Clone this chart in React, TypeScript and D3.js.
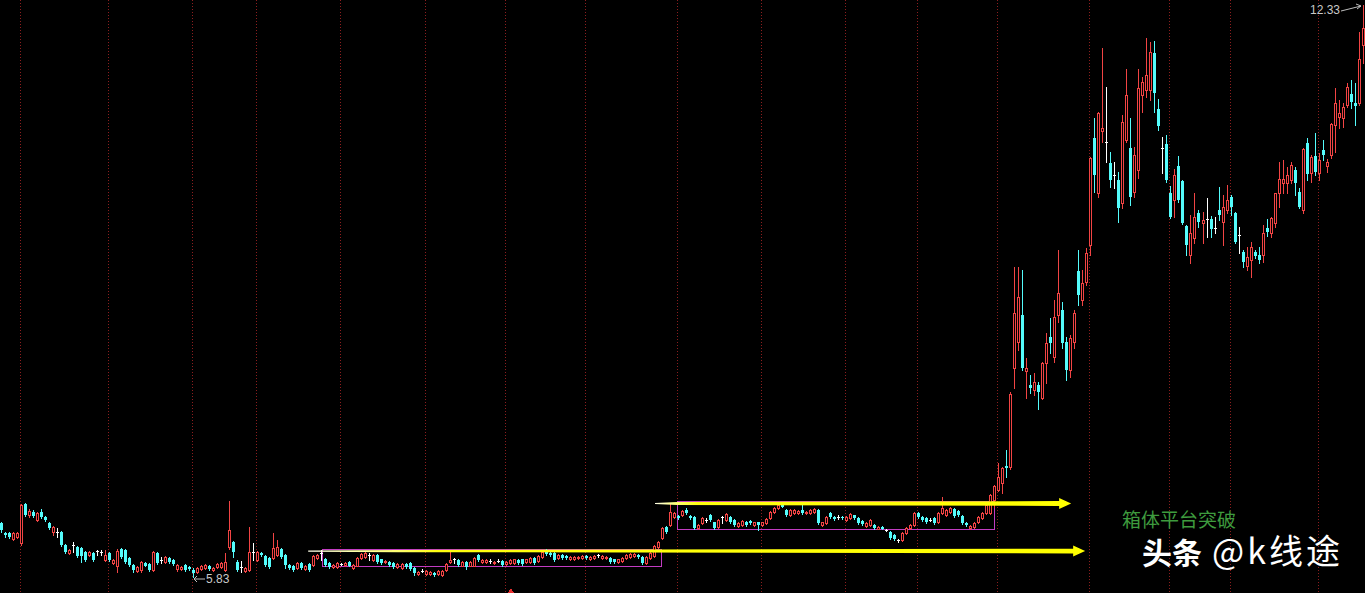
import React, { useEffect } from 'react';
import * as d3 from 'd3';

const W = 1365;
const H = 593;

// Daily OHLC (341 sessions)
const openP = [
  6.44, 6.33, 6.33, 6.26, 6.28, 6.22, 6.66, 6.53, 6.57, 6.48,
  6.57, 6.51, 6.44, 6.34, 6.34, 6.34, 6.19, 6.10, 6.19, 6.17,
  6.16, 6.11, 6.08, 6.10, 6.12, 6.11, 6.02, 6.10, 5.99, 5.96,
  6.15, 6.14, 6.05, 5.97, 5.90, 5.91, 5.99, 5.98, 5.91, 6.10,
  6.02, 6.00, 6.05, 6.02, 5.92, 5.92, 5.97, 5.94, 5.91, 5.89,
  5.92, 5.93, 5.96, 5.91, 5.94, 5.94, 5.91, 6.17, 6.23, 6.00,
  5.94, 5.90, 5.91, 6.11, 6.02, 6.10, 6.07, 6.05, 6.05, 6.08,
  6.15, 6.08, 5.97, 5.96, 5.93, 5.99, 5.92, 5.98, 5.97, 6.05,
  6.10, 6.03, 5.99, 5.94, 5.94, 5.98, 5.97, 6.00, 5.93, 5.96,
  6.05, 6.06, 6.08, 6.02, 6.08, 6.03, 6.00, 6.00, 5.99, 5.94,
  5.93, 5.98, 5.99, 5.93, 5.86, 5.90, 5.86, 5.86, 5.88, 5.86,
  5.85, 5.91, 6.00, 6.03, 6.02, 5.96, 6.00, 5.96, 5.96, 6.08,
  6.00, 6.00, 6.01, 5.99, 6.01, 6.01, 5.98, 5.99, 5.99, 6.02,
  6.03, 6.00, 6.00, 6.05, 6.01, 6.06, 6.14, 6.10, 6.10, 6.05,
  6.08, 6.07, 6.03, 6.03, 6.05, 6.05, 6.07, 6.03, 6.05, 6.08,
  6.05, 6.05, 6.05, 6.03, 6.00, 6.01, 6.05, 6.06, 6.07, 6.08,
  6.06, 5.99, 6.05, 6.07, 6.17, 6.27, 6.40, 6.42, 6.51, 6.52,
  6.53, 6.59, 6.52, 6.51, 6.39, 6.44, 6.48, 6.53, 6.45, 6.40,
  6.51, 6.48, 6.51, 6.48, 6.41, 6.42, 6.45, 6.47, 6.42, 6.45,
  6.42, 6.44, 6.50, 6.57, 6.61, 6.65, 6.59, 6.53, 6.56, 6.56,
  6.59, 6.56, 6.56, 6.57, 6.59, 6.42, 6.44, 6.56, 6.51, 6.51,
  6.51, 6.48, 6.50, 6.53, 6.50, 6.47, 6.41, 6.42, 6.42, 6.38,
  6.40, 6.36, 6.34, 6.31, 6.25, 6.25, 6.33, 6.39, 6.42, 6.56,
  6.51, 6.50, 6.48, 6.50, 6.45, 6.56, 6.53, 6.57, 6.60, 6.58,
  6.52, 6.44, 6.39, 6.40, 6.45, 6.50, 6.56, 6.56, 6.70, 6.82,
  6.90, 7.09, 7.08, 8.21, 8.50, 8.81, 8.17, 8.01, 7.96, 8.01,
  7.86, 8.26, 8.56, 8.33, 8.81, 8.86, 8.50, 8.18, 8.50, 9.31,
  8.98, 9.18, 9.60, 10.82, 10.19, 10.90, 10.77, 10.535, 10.40, 10.34,
  10.08, 10.80, 10.705, 10.205, 10.455, 11.31, 11.36, 11.36, 11.785, 11.15,
  10.705, 10.75, 10.19, 10.11, 10.50, 10.33, 9.82, 9.49, 9.68, 9.97,
  9.85, 9.90, 9.90, 9.80, 10.00, 9.86, 10.00, 10.15, 9.97, 9.72,
  9.52, 9.36, 9.43, 9.52, 9.49, 9.49, 9.80, 9.74, 9.85, 10.19,
  10.31, 10.31, 10.34, 10.455, 10.205, 10.00, 10.76, 10.42, 10.61, 10.42,
  10.68, 10.50, 10.625, 10.97, 11.06, 11.05, 11.19, 11.32, 11.22, 11.22, 11.875,
];

const highP = [
  6.46, 6.34, 6.34, 6.34, 6.34, 6.66, 6.67, 6.60, 6.59, 6.57,
  6.60, 6.52, 6.45, 6.41, 6.39, 6.35, 6.20, 6.15, 6.23, 6.18,
  6.17, 6.12, 6.12, 6.11, 6.14, 6.14, 6.14, 6.11, 6.03, 6.15,
  6.16, 6.15, 6.06, 5.98, 5.96, 6.01, 6.00, 5.99, 6.12, 6.11,
  6.06, 6.07, 6.06, 6.03, 5.98, 5.96, 5.98, 5.96, 5.93, 5.94,
  5.97, 5.98, 5.97, 5.94, 5.99, 6.00, 6.10, 6.69, 6.24, 6.02,
  6.01, 5.94, 6.40, 6.22, 6.12, 6.11, 6.08, 6.06, 6.33, 6.25,
  6.16, 6.09, 5.98, 5.97, 6.00, 6.00, 5.97, 5.99, 6.08, 6.09,
  6.14, 6.05, 6.00, 5.98, 6.00, 5.99, 6.00, 6.01, 5.98, 6.06,
  6.10, 6.12, 6.10, 6.09, 6.09, 6.04, 6.02, 6.01, 6.00, 5.99,
  5.99, 5.99, 6.00, 5.94, 5.90, 5.92, 5.91, 5.90, 5.89, 5.91,
  5.91, 5.99, 6.11, 6.05, 6.03, 6.01, 6.01, 6.01, 6.06, 6.09,
  6.03, 6.03, 6.03, 6.01, 6.03, 6.02, 6.01, 6.03, 6.04, 6.03,
  6.04, 6.04, 6.06, 6.06, 6.08, 6.12, 6.15, 6.11, 6.11, 6.09,
  6.09, 6.08, 6.07, 6.07, 6.07, 6.08, 6.08, 6.07, 6.08, 6.09,
  6.08, 6.07, 6.06, 6.04, 6.04, 6.06, 6.09, 6.10, 6.10, 6.09,
  6.07, 6.07, 6.11, 6.19, 6.24, 6.40, 6.41, 6.67, 6.57, 6.53,
  6.59, 6.61, 6.53, 6.52, 6.43, 6.51, 6.50, 6.55, 6.46, 6.49,
  6.52, 6.56, 6.52, 6.49, 6.45, 6.48, 6.47, 6.48, 6.46, 6.46,
  6.46, 6.50, 6.58, 6.62, 6.66, 6.67, 6.60, 6.60, 6.60, 6.59,
  6.66, 6.58, 6.60, 6.61, 6.60, 6.46, 6.52, 6.57, 6.52, 6.53,
  6.52, 6.52, 6.56, 6.54, 6.51, 6.48, 6.45, 6.49, 6.43, 6.41,
  6.41, 6.38, 6.35, 6.32, 6.26, 6.34, 6.40, 6.43, 6.57, 6.57,
  6.52, 6.51, 6.50, 6.51, 6.57, 6.74, 6.60, 6.62, 6.61, 6.59,
  6.53, 6.45, 6.42, 6.45, 6.52, 6.57, 6.66, 6.77, 6.87, 7.13,
  7.08, 7.27, 7.93, 9.35, 9.35, 9.32, 8.32, 8.13, 8.15, 8.05,
  8.27, 8.60, 8.77, 8.98, 9.55, 8.955, 8.56, 8.58, 8.86, 9.55,
  9.32, 9.57, 10.60, 11.05, 11.11, 11.84, 11.40, 10.66, 10.55, 10.43,
  11.08, 11.60, 11.05, 10.72, 11.60, 11.51, 11.955, 11.91, 11.92, 11.26,
  10.83, 10.85, 10.27, 10.47, 10.61, 10.34, 9.83, 9.94, 10.19, 10.00,
  9.98, 10.14, 9.93, 9.92, 10.26, 10.17, 10.285, 10.17, 9.98, 9.81,
  9.55, 9.58, 9.64, 9.55, 9.58, 9.83, 9.90, 9.92, 10.19, 10.55,
  10.57, 10.49, 10.55, 10.49, 10.25, 10.705, 10.82, 10.625, 10.875, 10.65,
  10.80, 10.58, 10.99, 11.39, 11.25, 11.22, 11.44, 11.48, 11.44, 12.02, 12.33,
];

const lowP = [
  6.34, 6.28, 6.27, 6.25, 6.27, 6.19, 6.52, 6.51, 6.51, 6.47,
  6.50, 6.47, 6.38, 6.31, 6.28, 6.18, 6.10, 6.09, 6.11, 6.06,
  6.00, 6.01, 6.07, 6.01, 6.08, 6.08, 6.01, 6.01, 5.98, 5.89,
  6.05, 5.99, 5.96, 5.89, 5.89, 5.89, 5.95, 5.90, 5.90, 5.98,
  5.99, 5.99, 5.99, 5.97, 5.90, 5.91, 5.90, 5.91, 5.83, 5.88,
  5.91, 5.92, 5.91, 5.90, 5.93, 5.93, 5.90, 6.15, 6.06, 5.90,
  5.89, 5.89, 5.90, 6.02, 6.01, 6.07, 5.96, 5.93, 6.04, 6.07,
  6.05, 5.93, 5.92, 5.90, 5.92, 5.92, 5.91, 5.90, 5.96, 6.04,
  6.02, 5.96, 5.93, 5.93, 5.93, 5.97, 5.96, 5.95, 5.92, 5.95,
  6.04, 6.05, 6.02, 6.01, 5.99, 5.98, 5.99, 5.96, 5.93, 5.93,
  5.92, 5.93, 5.91, 5.85, 5.85, 5.89, 5.85, 5.85, 5.84, 5.85,
  5.84, 5.90, 5.99, 5.99, 5.96, 5.95, 5.92, 5.95, 5.95, 6.01,
  5.99, 5.99, 5.99, 5.98, 6.00, 5.96, 5.97, 5.98, 5.98, 5.98,
  5.97, 5.99, 5.99, 5.98, 6.00, 6.05, 6.08, 6.07, 6.01, 6.04,
  6.04, 6.04, 6.02, 6.02, 6.04, 6.04, 6.04, 6.02, 6.04, 6.06,
  6.04, 6.04, 5.99, 5.99, 5.99, 6.00, 6.04, 6.05, 6.06, 6.05,
  5.98, 5.98, 6.04, 6.06, 6.16, 6.26, 6.33, 6.41, 6.50, 6.49,
  6.52, 6.55, 6.49, 6.38, 6.38, 6.43, 6.46, 6.47, 6.38, 6.39,
  6.44, 6.47, 6.44, 6.41, 6.40, 6.41, 6.41, 6.43, 6.41, 6.36,
  6.41, 6.43, 6.49, 6.56, 6.60, 6.62, 6.52, 6.52, 6.55, 6.55,
  6.55, 6.55, 6.55, 6.56, 6.43, 6.41, 6.43, 6.50, 6.48, 6.49,
  6.49, 6.47, 6.49, 6.49, 6.43, 6.42, 6.40, 6.41, 6.38, 6.37,
  6.37, 6.35, 6.26, 6.25, 6.23, 6.24, 6.32, 6.38, 6.41, 6.50,
  6.47, 6.44, 6.47, 6.43, 6.44, 6.55, 6.52, 6.56, 6.51, 6.52,
  6.43, 6.41, 6.38, 6.39, 6.44, 6.49, 6.55, 6.55, 6.63, 6.81,
  6.78, 6.97, 7.06, 7.98, 8.41, 8.18, 7.86, 7.92, 7.90, 7.74,
  7.85, 8.03, 8.38, 8.27, 8.73, 8.43, 8.07, 8.10, 8.43, 8.92,
  8.92, 9.15, 9.49, 10.205, 10.15, 10.77, 10.55, 10.26, 10.25, 9.86,
  10.02, 10.77, 10.06, 10.15, 10.36, 11.11, 11.285, 11.25, 11.11, 10.91,
  10.42, 10.32, 9.91, 9.92, 10.09, 9.84, 9.49, 9.40, 9.625, 9.81,
  9.625, 9.69, 9.69, 9.74, 9.89, 9.60, 9.97, 9.94, 9.625, 9.51,
  9.35, 9.32, 9.24, 9.455, 9.40, 9.41, 9.705, 9.69, 9.81, 10.03,
  10.19, 10.19, 10.31, 10.17, 10.02, 9.97, 10.34, 10.32, 10.40, 10.34,
  10.57, 10.43, 10.59, 10.66, 10.93, 10.94, 11.17, 11.16, 10.97, 11.19, 11.67,
];

const closeP = [
  6.36, 6.31, 6.28, 6.33, 6.33, 6.65, 6.53, 6.58, 6.52, 6.56,
  6.51, 6.48, 6.39, 6.40, 6.34, 6.19, 6.11, 6.14, 6.19, 6.07,
  6.07, 6.02, 6.11, 6.02, 6.12, 6.11, 6.08, 6.02, 6.02, 6.12,
  6.06, 6.00, 5.97, 5.91, 5.94, 6.00, 5.96, 5.91, 6.11, 5.99,
  6.02, 6.06, 6.00, 5.98, 5.97, 5.94, 5.91, 5.92, 5.88, 5.93,
  5.96, 5.97, 5.92, 5.93, 5.98, 5.99, 6.00, 6.36, 6.11, 5.91,
  5.94, 5.93, 6.11, 6.11, 6.11, 6.08, 5.97, 5.94, 6.16, 6.17,
  6.06, 5.97, 5.93, 5.91, 5.99, 5.93, 5.96, 5.91, 6.07, 6.08,
  6.10, 5.97, 5.94, 5.97, 5.99, 5.98, 5.99, 5.96, 5.97, 6.05,
  6.09, 6.10, 6.08, 6.08, 6.00, 5.99, 6.01, 5.97, 5.94, 5.98,
  5.98, 5.94, 5.92, 5.88, 5.89, 5.90, 5.90, 5.89, 5.85, 5.90,
  5.90, 5.98, 6.02, 6.03, 5.97, 6.00, 5.94, 6.00, 6.05, 6.02,
  6.02, 6.02, 6.01, 6.00, 6.01, 5.97, 6.00, 6.02, 6.03, 5.99,
  5.98, 6.03, 6.05, 5.99, 6.07, 6.11, 6.09, 6.08, 6.02, 6.08,
  6.05, 6.05, 6.06, 6.06, 6.06, 6.07, 6.05, 6.06, 6.07, 6.08,
  6.07, 6.06, 6.00, 6.00, 6.03, 6.05, 6.08, 6.09, 6.09, 6.06,
  5.99, 6.06, 6.10, 6.18, 6.23, 6.39, 6.34, 6.57, 6.56, 6.50,
  6.58, 6.56, 6.50, 6.39, 6.42, 6.50, 6.48, 6.48, 6.39, 6.48,
  6.51, 6.55, 6.45, 6.42, 6.44, 6.47, 6.42, 6.44, 6.45, 6.42,
  6.45, 6.49, 6.57, 6.61, 6.65, 6.63, 6.53, 6.59, 6.59, 6.58,
  6.56, 6.57, 6.59, 6.60, 6.44, 6.45, 6.51, 6.51, 6.49, 6.51,
  6.50, 6.51, 6.55, 6.50, 6.44, 6.43, 6.44, 6.48, 6.39, 6.40,
  6.38, 6.36, 6.27, 6.26, 6.25, 6.33, 6.39, 6.42, 6.56, 6.51,
  6.48, 6.45, 6.48, 6.44, 6.56, 6.61, 6.59, 6.61, 6.52, 6.53,
  6.44, 6.42, 6.41, 6.44, 6.51, 6.56, 6.65, 6.76, 6.86, 6.97,
  7.07, 7.07, 7.91, 8.83, 9.01, 8.21, 8.21, 7.98, 8.05, 7.93,
  8.26, 8.49, 8.49, 8.78, 9.06, 8.49, 8.18, 8.55, 8.83, 9.03,
  9.17, 9.51, 10.59, 10.40, 11.10, 10.93, 10.77, 10.34, 10.40, 10.02,
  11.00, 11.31, 10.15, 10.625, 11.39, 11.455, 11.535, 11.80, 11.33, 10.955,
  10.705, 10.34, 9.92, 10.40, 10.11, 9.85, 9.60, 9.74, 9.92, 9.86,
  9.89, 9.90, 9.785, 9.80, 9.94, 10.03, 10.11, 10.03, 9.64, 9.72,
  9.41, 9.47, 9.58, 9.48, 9.43, 9.74, 9.75, 9.91, 10.19, 10.35,
  10.35, 10.40, 10.51, 10.31, 10.03, 10.69, 10.41, 10.60, 10.43, 10.57,
  10.625, 10.55, 10.98, 11.22, 11.10, 11.17, 11.40, 11.23, 11.18, 11.72, 12.07,
];

// first session of each month (dotted separators)
const monthStarts = [5, 27, 48, 64, 85, 106, 126, 146, 169, 190, 211, 229, 249, 272, 292, 307, 329];

// consolidation boxes: start index, end index, top price, bottom price
const boxStart = [80.1, 168.9];
const boxEnd = [164.7, 248.0];
const boxTop = [6.148, 6.697];
const boxBottom = [5.955, 6.372];

// breakout arrows: start index, tip index, price level
const arrowStart = [163.3, 76.7];
const arrowTip = [267.2, 270.7];
const arrowLevel = [6.665, 6.125];

const signalMarks = [127];

const noteText = '箱体平台突破';
const brandBold = '头条';
const brandRest = '@k线途';

const RED = '#F24444';
const CYAN = '#54FCFC';
const WHITE = '#FFFFFF';

export default function App() {
  useEffect(() => {
    document.body.style.margin = '0';
    document.body.style.background = '#000';
    document.body.style.overflow = 'hidden';
  }, []);

  const n = Math.min(openP.length, highP.length, lowP.length, closeP.length);
  const x = d3.scaleLinear().domain([0, 340]).range([1, 1 + 4.005 * 340]);
  const lo = d3.min(lowP.slice(0, n)) as number;
  const hi = d3.max(highP.slice(0, n)) as number;
  const y = d3.scaleLinear().domain([lo, hi]).range([577, 5]);
  const iLo = d3.minIndex(lowP.slice(0, n));
  const iHi = d3.maxIndex(highP.slice(0, n));

  const candles = d3.range(n).map((i) => {
    const o = openP[i], h = highP[i], l = lowP[i], c = closeP[i];
    const cx = Math.round(x(i));
    const yh = Math.round(y(h));
    const yl = Math.round(y(l));
    const yt = Math.round(y(Math.max(o, c)));
    const yb = Math.round(y(Math.min(o, c)));
    if (c > o) {
      const hgt = yb - yt;
      return (
        <g key={i}>
          <line x1={cx + 0.5} x2={cx + 0.5} y1={yh} y2={yt} stroke={RED} />
          <line x1={cx + 0.5} x2={cx + 0.5} y1={yb + 1} y2={yl + 1} stroke={RED} />
          {hgt >= 2 ? (
            <rect x={cx - 0.5} y={yt + 0.5} width={2} height={hgt} fill="#000" stroke={RED} />
          ) : (
            <rect x={cx - 1} y={yt} width={3} height={hgt + 1} fill={RED} />
          )}
        </g>
      );
    }
    const col = c < o ? CYAN : WHITE;
    return (
      <g key={i}>
        <line x1={cx + 0.5} x2={cx + 0.5} y1={yh} y2={yl + 1} stroke={col} />
        <rect x={cx - 1} y={yt} width={3} height={Math.max(yb - yt, 1)} fill={col} />
      </g>
    );
  });

  const grid = monthStarts.map((m, k) => {
    const gx = Math.round(x(m)) - 1 + 0.5;
    return <line key={k} x1={gx} x2={gx} y1={0} y2={H} stroke="#8c1e1e" strokeDasharray="1 2" />;
  });

  const boxes = boxStart.map((s, k) => {
    const x0 = Math.round(x(s)) + 0.5;
    const x1 = Math.round(x(boxEnd[k])) + 0.5;
    const y0 = Math.round(y(boxTop[k])) + 0.5;
    const y1 = Math.round(y(boxBottom[k])) + 0.5;
    return <rect key={k} x={x0} y={y0} width={x1 - x0} height={y1 - y0} fill="none" stroke="#C23CC2" />;
  });

  // taper lengths (px) of the thin lead-in of each arrow
  const leadIn = [22, 90];
  const arrows = arrowStart.map((s, k) => {
    const x0 = x(s);
    const x1 = x(arrowTip[k]);
    const yc = y(arrowLevel[k]);
    const head = 12;
    const hh = 5.5;
    const xm = x0 + leadIn[k];
    const wm = k === 0 ? 3.2 : 2.2;
    const w1 = 4.8;
    const pts: [number, number][] = [
      [x0, yc - 0.6],
      [xm, yc - wm / 2],
      [x1 - head, yc - w1 / 2],
      [x1 - head, yc - hh],
      [x1, yc],
      [x1 - head, yc + hh],
      [x1 - head, yc + w1 / 2],
      [xm, yc + wm / 2],
      [x0, yc + 0.6],
    ];
    const f = leadIn[k] / (x1 - x0);
    return (
      <g key={k}>
        <defs>
          <linearGradient id={`ag${k}`} gradientUnits="userSpaceOnUse" x1={x0} x2={x1} y1={0} y2={0}>
            <stop offset="0" stopColor="#FFFFE8" />
            <stop offset={f} stopColor="#FFFF70" />
            <stop offset={Math.min(1, f + 0.05)} stopColor="#FFFF10" />
            <stop offset="1" stopColor="#FFFF00" />
          </linearGradient>
        </defs>
        <polygon points={pts.map((p) => p.join(',')).join(' ')} fill={`url(#ag${k})`} />
      </g>
    );
  });

  const lowX = Math.round(x(iLo));
  const lowY = y(lowP[iLo]);
  const hiX = Math.round(x(iHi));
  const hiY = y(highP[iHi]);

  return (
    <svg
      width={W}
      height={H}
      style={{ position: 'fixed', left: 0, top: 0, display: 'block', background: '#000' }}
      shapeRendering="crispEdges"
    >
      <rect x={0} y={0} width={W} height={H} fill="#000" />
      {grid}
      {boxes}
      {candles}
      <g shapeRendering="auto">{arrows}</g>
      {signalMarks.map((m, k) => {
        const cx = Math.round(x(m)) + 1;
        return <polygon key={k} points={`${cx - 3},${H} ${cx + 3},${H} ${cx},${H - 5}`} fill="#E83030" />;
      })}
      <g shapeRendering="auto" stroke="#BEBEBE" fill="none">
        <line x1={lowX + 12} y1={lowY + 2} x2={lowX + 1} y2={lowY + 2} />
        <line x1={lowX + 1} y1={lowY + 2} x2={lowX + 4} y2={lowY - 1} />
        <line x1={lowX + 1} y1={lowY + 2} x2={lowX + 4} y2={lowY + 5} />
        <line x1={hiX - 22} y1={hiY + 6} x2={hiX - 2} y2={hiY + 1} />
        <line x1={hiX - 2} y1={hiY + 1} x2={hiX - 7} y2={hiY - 1} />
        <line x1={hiX - 2} y1={hiY + 1} x2={hiX - 6} y2={hiY + 4} />
      </g>
      <text x={lowX + 13} y={lowY + 6} fill="#C8C8C8" fontSize={12} fontFamily="Liberation Sans, Arial, sans-serif">
        {lowP[iLo].toFixed(2)}
      </text>
      <text x={hiX - 23} y={hiY + 9} fill="#C8C8C8" fontSize={12} fontFamily="Liberation Sans, Arial, sans-serif" textAnchor="end">
        {highP[iHi].toFixed(2)}
      </text>
      <text x={1122} y={527} fill="#3E9B3E" fontSize={19} fontFamily="Noto Sans CJK SC, sans-serif">
        {noteText}
      </text>
      <text x={1142} y={564} fill="#FFFFFF" fontSize={30} fontFamily="Noto Sans CJK SC, sans-serif">
        <tspan fontWeight="bold">{brandBold}</tspan>
        <tspan dx={10} fontSize={34} letterSpacing={3}>{brandRest}</tspan>
      </text>
    </svg>
  );
}
